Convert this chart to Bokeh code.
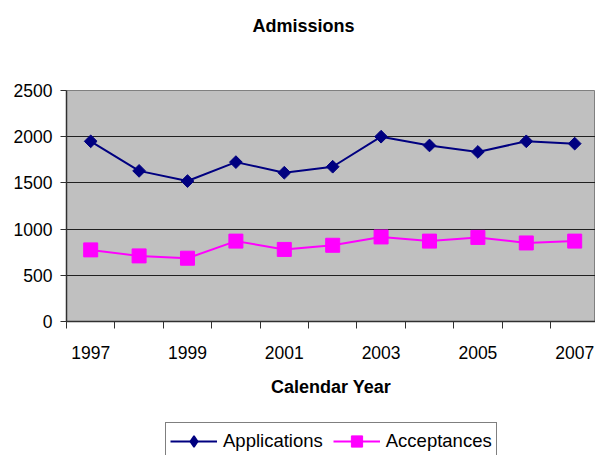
import numpy as np
from bokeh.plotting import figure
from bokeh.layouts import column
from bokeh.models import FixedTicker, Legend, LegendItem, Range1d, Title
from bokeh.embed import file_html
from bokeh.resources import INLINE

# ---- data ----
years = [1997, 1998, 1999, 2000, 2001, 2002, 2003, 2004, 2005, 2006, 2007]
applications = [1950, 1630, 1520, 1725, 1610, 1675, 2000, 1905, 1835, 1950, 1925]
acceptances = [775, 710, 685, 870, 780, 825, 915, 870, 910, 850, 870]
label_years = [1997, 1999, 2001, 2003, 2005, 2007]
y_ticks = [0, 500, 1000, 1500, 2000, 2500]
series_names = ["Applications", "Acceptances"]

FONT = "Liberation Sans"
NAVY = "#000080"
MAGENTA = "#ff00ff"

p = figure(width=595, height=415, output_backend="svg", toolbar_location=None,
           x_range=Range1d(years[0] - 0.5, years[-1] + 0.43),
           y_range=Range1d(0, 2500),
           min_border_left=66, min_border_right=0,
           min_border_top=90, min_border_bottom=94)

p.background_fill_color = "#c0c0c0"
p.border_fill_color = "white"
p.outline_line_color = "#808080"
p.outline_line_width = 1

# spacer between the frame and the title
spacer = Title(text=" ", text_font=FONT, text_font_size="18px", standoff=28)
p.add_layout(spacer, "above")
title = Title(text="Admissions", align="left", vertical_align="top",
              offset=186, standoff=6,
              text_font=FONT, text_font_size="18px", text_font_style="bold",
              text_color="black")
p.add_layout(title, "above")

# y axis
p.yaxis.ticker = FixedTicker(ticks=y_ticks)
p.yaxis.major_label_text_font = FONT
p.yaxis.major_label_text_font_size = "17.5px"
p.yaxis.major_label_text_color = "black"
p.yaxis.axis_line_color = "#303030"
p.yaxis.axis_line_width = 1.5
p.yaxis.major_tick_out = 6
p.yaxis.major_tick_in = 0
p.yaxis.major_tick_line_color = "#303030"
p.yaxis.minor_tick_line_color = None
p.yaxis.major_label_standoff = 8

# x axis
boundaries = [y - 0.5 for y in years]
p.xaxis.ticker = FixedTicker(ticks=label_years, minor_ticks=boundaries)
p.xaxis.major_label_overrides = {y: str(y) for y in label_years}
p.xaxis.major_label_text_font = FONT
p.xaxis.major_label_text_font_size = "17.5px"
p.xaxis.major_label_text_color = "black"
p.xaxis.axis_line_color = "#303030"
p.xaxis.axis_line_width = 1.5
p.xaxis.major_tick_out = 0
p.xaxis.major_tick_in = 0
p.xaxis.minor_tick_out = 7
p.xaxis.minor_tick_in = 0
p.xaxis.minor_tick_line_color = "#303030"
p.xaxis.major_label_standoff = 17
p.xaxis.axis_label = "Calendar Year"
p.xaxis.axis_label_text_font = FONT
p.xaxis.axis_label_text_font_size = "18px"
p.xaxis.axis_label_text_font_style = "bold"
p.xaxis.axis_label_text_color = "black"
p.xaxis.axis_label_standoff = 15

# grid
p.xgrid.grid_line_color = None
p.ygrid.ticker = FixedTicker(ticks=y_ticks[1:-1])
p.ygrid.grid_line_color = "#202020"
p.ygrid.grid_line_width = 1

# series
p.line(years, applications, line_color=NAVY, line_width=2)
p.scatter(years, applications, marker="square", angle=np.pi / 4, size=9,
          fill_color=NAVY, line_color=NAVY)
p.line(years, acceptances, line_color=MAGENTA, line_width=2)
p.scatter(years, acceptances, marker="square", size=14,
          fill_color=MAGENTA, line_color=MAGENTA)

# legend strip below the chart (same series, drawn out of view; only the
# legend is visible)
q = figure(width=595, height=40, output_backend="svg", toolbar_location=None,
           x_axis_type=None, y_axis_type=None,
           x_range=Range1d(years[0] - 0.5, years[-1] + 0.43),
           y_range=Range1d(-2, -1),
           min_border_left=66, min_border_right=0,
           min_border_top=0, min_border_bottom=0)
q.outline_line_color = None
q.background_fill_color = "white"
q.border_fill_color = "white"
g1 = q.line(years, applications, line_color=NAVY, line_width=2)
s1 = q.scatter(years, applications, marker="diamond", size=13,
               fill_color=NAVY, line_color=NAVY, line_width=1.5)
g2 = q.line(years, acceptances, line_color=MAGENTA, line_width=2)
s2 = q.scatter(years, acceptances, marker="square", size=14,
               fill_color=MAGENTA, line_color=MAGENTA)

legend = Legend(items=[LegendItem(label=series_names[0], renderers=[g1, s1]),
                       LegendItem(label=series_names[1], renderers=[g2, s2])],
                orientation="horizontal", location=(99, -5),
                label_text_font=FONT, label_text_font_size="18.5px",
                label_text_color="black",
                glyph_width=47, glyph_height=28, label_standoff=6, spacing=10,
                padding=4, margin=0,
                border_line_color="black", border_line_width=1,
                background_fill_color="white", background_fill_alpha=1)
q.add_layout(legend, "center")

layout = column(p, q, spacing=0)
open("out.html", "w").write(file_html(layout, INLINE))
